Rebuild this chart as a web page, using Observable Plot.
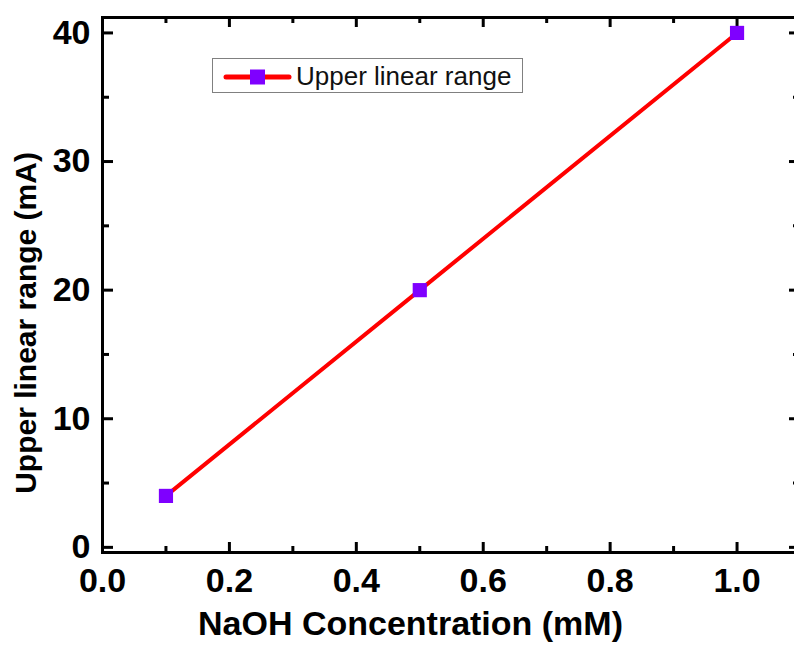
<!DOCTYPE html>
<html>
<head>
<meta charset="utf-8">
<script src="https://cdn.jsdelivr.net/npm/d3@7"></script>
<script src="https://cdn.jsdelivr.net/npm/@observablehq/plot@0.6"></script>
<style>
  html, body { margin: 0; padding: 0; background: #fff; }
  #wrap { position: relative; width: 794px; height: 646px; overflow: hidden; font-family: "Liberation Sans", Arial, sans-serif; }
  #wrap > svg { max-width: none !important; }
  #legend { position: absolute; left: 212px; top: 58px; width: 309px; height: 33px; border: 1.5px solid #808080; background: #fff; box-sizing: content-box; }
  #legend svg { position: absolute; left: 0; top: 0; }
  #legend span { position: absolute; left: 83px; top: 2px; font-size: 26px; color: #111; line-height: 30px; white-space: nowrap; }
</style>
</head>
<body>
<div id="wrap"></div>
<script>
// Data
const seriesName = "Upper linear range";
const concentration = [0.1, 0.5, 1.0];
const upperRange = [4, 20, 40];
// Ticks
const xMajorTicks = [0, 0.2, 0.4, 0.6, 0.8, 1.0];
const xMinorTicks = [0.1, 0.3, 0.5, 0.7, 0.9];
const xTickLabels = ["0.0", "0.2", "0.4", "0.6", "0.8", "1.0"];
const yMajorTicks = [0, 10, 20, 30, 40];
const yMinorTicks = [5, 15, 25, 35];
const yTickLabels = ["0", "10", "20", "30", "40"];
const xTitle = "NaOH Concentration (mM)";
const yTitle = "Upper linear range (mA)";

const data = concentration.map((x, i) => ({x, y: upperRange[i]}));

const W = 800, H = 646;
const mL = 102, mR = 0, mT = 17, mB = 94;
const fw = W - mL - mR, fh = H - mT - mB;

const chart = Plot.plot({
  width: W,
  height: H,
  marginLeft: mL, marginRight: mR, marginTop: mT, marginBottom: mB,
  style: {fontFamily: "'Liberation Sans', Arial, sans-serif", fontWeight: "bold", color: "black", background: "white", overflow: "visible", maxWidth: "none"},
  x: {domain: [0, 1.1]},
  y: {domain: [-0.4, 41.2]},
  marks: [
    // bottom & top ticks (inward)
    Plot.tickX(xMajorTicks, {x: d => d, stroke: "black", strokeWidth: 3, insetTop: fh - 10}),
    Plot.tickX(xMinorTicks, {x: d => d, stroke: "black", strokeWidth: 3, insetTop: fh - 6}),
    Plot.tickX(xMajorTicks, {x: d => d, stroke: "black", strokeWidth: 3, insetBottom: fh - 10}),
    Plot.tickX(xMinorTicks, {x: d => d, stroke: "black", strokeWidth: 3, insetBottom: fh - 6}),
    // left & right ticks (inward)
    Plot.tickY(yMajorTicks, {y: d => d, stroke: "black", strokeWidth: 3, insetRight: fw - 11}),
    Plot.tickY(yMinorTicks, {y: d => d, stroke: "black", strokeWidth: 3, insetRight: fw - 7}),
    Plot.tickY(yMajorTicks, {y: d => d, stroke: "black", strokeWidth: 3, insetLeft: fw - 11}),
    Plot.tickY(yMinorTicks, {y: d => d, stroke: "black", strokeWidth: 3, insetLeft: fw - 7}),
    Plot.frame({stroke: "black", strokeWidth: 3}),
    Plot.axisX(xMajorTicks, {tickSize: 0, tickPadding: 15, fontSize: 34, fontWeight: "bold", tickFormat: (d, i) => xTickLabels[i], label: null}),
    Plot.axisY(yMajorTicks, {tickSize: 0, tickPadding: 12, fontSize: 34, fontWeight: "bold", tickFormat: (d, i) => yTickLabels[i], label: null}),
    Plot.text([xTitle], {text: d => d, frameAnchor: "bottom", textAnchor: "middle", lineAnchor: "bottom", dx: -41, dy: 82, fontSize: 34, fontWeight: "bold", fill: "black"}),
    Plot.text([yTitle], {text: d => d, frameAnchor: "left", textAnchor: "middle", lineAnchor: "middle", rotate: -90, dx: -76, dy: 38, fontSize: 30, fontWeight: "bold", fill: "black"}),
    Plot.line(data, {x: "x", y: "y", stroke: "#ff0000", strokeWidth: 4}),
    Plot.dot(data, {x: "x", y: "y", symbol: "square", r: 8, fill: "#7f00ff", stroke: "none"})
  ]
});

const wrap = document.getElementById("wrap");
wrap.appendChild(chart);

const legend = document.createElement("div");
legend.id = "legend";
legend.innerHTML = `<svg width="80" height="33">
  <line x1="13" x2="76" y1="18" y2="18" stroke="#ff0000" stroke-width="5" stroke-linecap="round"></line>
  <rect x="37" y="10.5" width="15" height="15" fill="#7f00ff"></rect>
</svg><span>${seriesName}</span>`;
wrap.appendChild(legend);
</script>
</body>
</html>
